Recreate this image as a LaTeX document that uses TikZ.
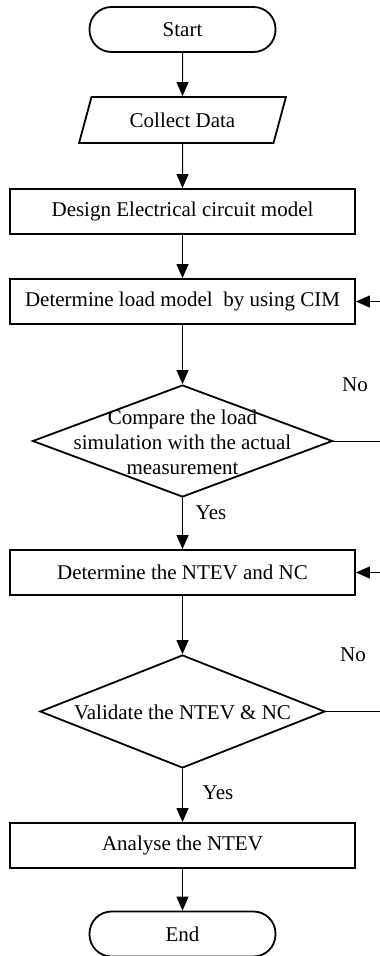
\documentclass[tikz,border=0pt]{standalone}
\usepackage{fontspec}
\setmainfont{Liberation Serif}
\usetikzlibrary{shapes.geometric,arrows.meta}
\begin{document}
\begin{tikzpicture}[x=1pt,y=-1pt,
  font=\fontsize{21}{25}\selectfont,
  box/.style={draw, line width=1.8pt, minimum width=345pt, minimum height=45pt, inner sep=0pt},
  term/.style={draw, line width=1.8pt, rounded corners=22pt, minimum width=186pt, minimum height=45pt, inner sep=0pt},
  para/.style={draw, line width=1.8pt, trapezium, trapezium left angle=64, trapezium right angle=116, trapezium stretches=true, minimum width=207pt, minimum height=46pt, inner sep=0pt},
  dia/.style={draw, line width=1.8pt, diamond, inner sep=0pt},
  lbl/.style={inner sep=0pt},
  arr/.style={line width=1pt, -{Triangle[width=12pt,length=14pt]}},
  ln/.style={line width=1pt}]
\useasboundingbox (0,0) rectangle (380,956);
\node[term] (start) at (182.5,29.5) {Start};
\node[para] (collect) at (182.5,120) {Collect Data};
\node[box] (design) at (182.5,211.5) {Design Electrical circuit model};
\node[box] (load) at (182.5,301.5) {Determine load model\ \ by using CIM};
\node[dia, minimum width=300pt, minimum height=112pt] (cmp) at (182.5,441) {};
\node[lbl, align=center] (cmptxt) at (182.5,442) {Compare the load\\simulation with the actual\\measurement};
\node[box] (ntev) at (182.5,572.5) {Determine the NTEV and NC};
\node[dia, minimum width=285pt, minimum height=113pt] (val) at (182.5,711.5) {};
\node[lbl] (valtxt) at (182.5,712) {Validate the NTEV \& NC};
\node[box] (ana) at (182.5,845.5) {Analyse the NTEV};
\node[term] (end) at (182.5,934) {End};
\node[lbl] (no1) at (355,385) {No};
\node[lbl] (yes1) at (211,513) {Yes};
\node[lbl] (no2) at (353,655) {No};
\node[lbl] (yes2) at (218,793) {Yes};
\coordinate (r1) at (380,301.5);
\coordinate (r2) at (380,441);
\coordinate (r3) at (380,572.5);
\coordinate (r4) at (380,711.5);
\draw[arr] (start) -- (collect);
\draw[arr] (collect) -- (design);
\draw[arr] (design) -- (load);
\draw[arr] (load) -- (cmp.north);
\draw[arr] (cmp.south) -- (ntev);
\draw[arr] (ntev) -- (val.north);
\draw[arr] (val.south) -- (ana);
\draw[arr] (ana) -- (end);
\draw[ln] (cmp.east) -- (r2);
\draw[arr] (r1) -- (load.east);
\draw[ln] (val.east) -- (r4);
\draw[arr] (r3) -- (ntev.east);
\end{tikzpicture}
\end{document}
